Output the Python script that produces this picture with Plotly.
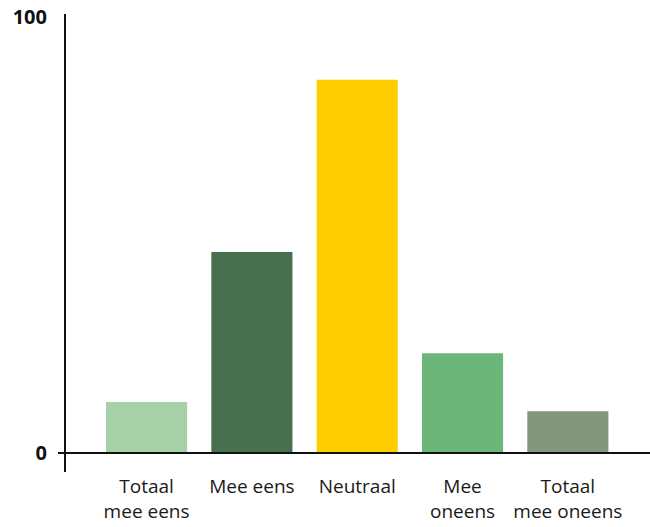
import plotly.graph_objects as go

categories = ["Totaal<br>mee eens", "Mee eens", "Neutraal", "Mee<br>oneens", "Totaal<br>mee oneens"]
values = [11.7, 46.1, 85.6, 22.9, 9.6]
colors = ["#A6D0A8", "#48704F", "#FFCC00", "#6DB67A", "#84967E"]
y_ticks = [0, 100]

fig = go.Figure(go.Bar(
    x=list(range(len(categories))), y=values,
    marker=dict(color=colors, line=dict(width=0)),
    width=0.77,
))

W, H = 650, 527
ml, mr, mt, mb = 66, 0, 14, 55
fig.update_layout(
    width=W, height=H,
    margin=dict(l=ml, r=mr, t=mt, b=mb),
    plot_bgcolor="white", paper_bgcolor="white",
    showlegend=False,
    font=dict(family="Open Sans", color="#1a1a1a"),
    xaxis=dict(
        range=[-0.765, 4.78],
        tickvals=list(range(len(categories))), ticktext=categories,
        showgrid=False, zeroline=False, showline=False,
        ticks="", tickfont=dict(size=19, color="#1a1a1a"),
        ticklabelstandoff=1,
    ),
    yaxis=dict(
        range=[-4.36, 100.69],
        tickvals=y_ticks, ticktext=[str(v) for v in y_ticks],
        showgrid=False, zeroline=False,
        showline=True, linecolor="#111111", linewidth=2,
        ticks="", tickfont=dict(size=20, color="#111111", family="Open Sans", weight="bold"),
        ticklabelstandoff=13, ticklabeloverflow="allow",
    ),
)
fig.add_shape(type="line", xref="paper", yref="y", x0=-8/(W-ml-mr), x1=1, y0=0, y1=0,
              line=dict(color="#111111", width=2))
fig.write_html(
    "out.html",
    config={"displayModeBar": False},
    post_script="document.body.style.margin='0';document.body.style.overflow='hidden';",
)
